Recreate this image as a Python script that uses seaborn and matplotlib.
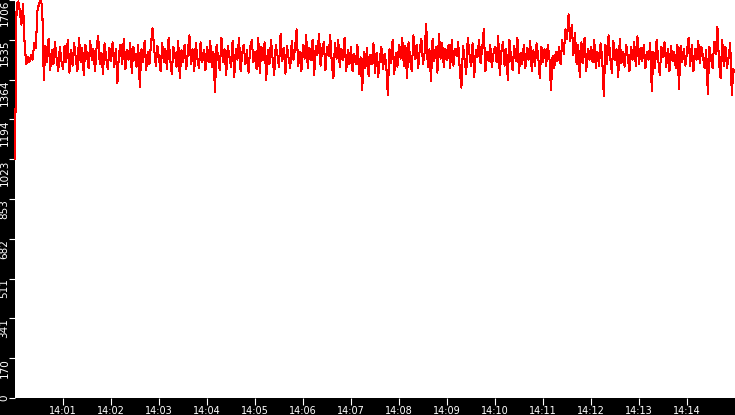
import pandas as pd
import numpy as np
import matplotlib
matplotlib.use('Agg')
import matplotlib.pyplot as plt
import seaborn as sns

# ============================================================================
# DATA (one sample every 2 s, 14:00:00 -> 14:15:00)
# ============================================================================

min_00 = [1023, 1690, 1700, 1660, 1600, 1690, 1520, 1430, 1460, 1440,
          1470, 1450, 1520, 1500, 1660, 1690, 1706, 1680, 1365, 1510,
          1440, 1540, 1405, 1490, 1430, 1525, 1455, 1400, 1505, 1445]
min_01 = [1410, 1510, 1440, 1535, 1395, 1490, 1425, 1520, 1455, 1400,
          1545, 1440, 1500, 1385, 1515, 1470, 1415, 1530, 1450, 1495,
          1400, 1505, 1550, 1430, 1480, 1390, 1520, 1455, 1410, 1500]
min_02 = [1445, 1525, 1420, 1495, 1350, 1480, 1515, 1430, 1540, 1410,
          1490, 1450, 1520, 1395, 1505, 1460, 1420, 1515, 1335, 1495,
          1440, 1530, 1405, 1485, 1430, 1520, 1585, 1495, 1425, 1510]
min_03 = [1455, 1400, 1520, 1440, 1495, 1410, 1545, 1450, 1390, 1505,
          1470, 1420, 1530, 1370, 1490, 1440, 1515, 1410, 1480, 1555,
          1430, 1495, 1400, 1520, 1455, 1415, 1525, 1440, 1490, 1405]
min_04 = [1505, 1440, 1530, 1420, 1485, 1310, 1515, 1455, 1405, 1545,
          1440, 1495, 1385, 1510, 1465, 1420, 1530, 1375, 1495, 1450,
          1545, 1400, 1480, 1515, 1430, 1490, 1395, 1505, 1535, 1440]
min_05 = [1485, 1410, 1545, 1395, 1505, 1450, 1525, 1365, 1490, 1430,
          1535, 1455, 1385, 1515, 1470, 1420, 1560, 1445, 1500, 1390,
          1510, 1455, 1415, 1530, 1450, 1495, 1580, 1425, 1485, 1400]
min_06 = [1515, 1455, 1555, 1415, 1500, 1450, 1535, 1385, 1510, 1470,
          1560, 1425, 1495, 1525, 1405, 1505, 1465, 1555, 1435, 1370,
          1520, 1455, 1535, 1420, 1495, 1450, 1545, 1400, 1490, 1430]
min_07 = [1505, 1400, 1475, 1430, 1515, 1390, 1460, 1320, 1485, 1415,
          1500, 1380, 1470, 1430, 1520, 1395, 1480, 1375, 1455, 1505,
          1410, 1475, 1430, 1300, 1495, 1435, 1535, 1390, 1480, 1420]
min_08 = [1515, 1455, 1545, 1425, 1510, 1370, 1525, 1450, 1400, 1555,
          1455, 1515, 1415, 1495, 1540, 1430, 1480, 1605, 1420, 1495,
          1360, 1540, 1445, 1505, 1395, 1560, 1455, 1520, 1420, 1495]
min_09 = [1450, 1515, 1415, 1535, 1425, 1495, 1465, 1525, 1405, 1330,
          1510, 1450, 1390, 1545, 1475, 1425, 1520, 1375, 1490, 1460,
          1535, 1435, 1500, 1580, 1400, 1485, 1445, 1515, 1420, 1475]
min_10 = [1505, 1440, 1550, 1385, 1485, 1525, 1425, 1495, 1365, 1535,
          1460, 1405, 1510, 1445, 1545, 1395, 1480, 1430, 1515, 1415,
          1500, 1450, 1530, 1400, 1490, 1425, 1520, 1465, 1370, 1505]
min_11 = [1440, 1495, 1425, 1515, 1460, 1320, 1465, 1415, 1485, 1445,
          1505, 1430, 1535, 1475, 1580, 1540, 1645, 1530, 1600, 1470,
          1565, 1430, 1515, 1375, 1525, 1435, 1545, 1400, 1495, 1450]
min_12 = [1505, 1440, 1535, 1415, 1485, 1425, 1520, 1455, 1295, 1515,
          1430, 1555, 1460, 1395, 1530, 1450, 1495, 1375, 1540, 1435,
          1485, 1420, 1515, 1460, 1400, 1505, 1450, 1525, 1425, 1550]
min_13 = [1430, 1500, 1445, 1515, 1415, 1485, 1450, 1520, 1315, 1485,
          1415, 1535, 1450, 1385, 1505, 1460, 1525, 1420, 1495, 1400,
          1510, 1445, 1485, 1415, 1515, 1325, 1510, 1440, 1495, 1425]
min_14 = [1485, 1545, 1425, 1515, 1400, 1495, 1450, 1530, 1435, 1505,
          1460, 1415, 1490, 1305, 1505, 1455, 1415, 1525, 1475, 1590,
          1440, 1370, 1535, 1425, 1505, 1415, 1460, 1520, 1300, 1410,
          1400]

ytick_labels = ['0', '170', '341', '511', '682', '853',
                '1023', '1194', '1364', '1535', '1706']
xtick_labels = ['14:01', '14:02', '14:03', '14:04', '14:05', '14:06', '14:07',
                '14:08', '14:09', '14:10', '14:11', '14:12', '14:13', '14:14']

values = (min_00 + min_01 + min_02 + min_03 + min_04 + min_05 + min_06 +
          min_07 + min_08 + min_09 + min_10 + min_11 + min_12 + min_13 + min_14)
df = pd.DataFrame({
    'time': pd.date_range('2024-01-01 14:00:00', periods=len(values), freq='2s'),
    'value': values,
})

# ============================================================================
# PLOT
# ============================================================================

plt.rcParams['font.family'] = ['DejaVu Sans']

fig = plt.figure(figsize=(7.35, 4.15), dpi=100, facecolor='black')
ax = fig.add_axes([15 / 735, 17 / 415, 720 / 735, 398 / 415])
ax.set_facecolor('white')

sns.lineplot(data=df, x='time', y='value', color='#ff0000', linewidth=0.75,
             antialiased=False, ax=ax)
for ln in ax.get_lines():
    ln.set_clip_on(False)  # keep the first steep segment fully visible

ax.set_ylim(0, 1706)
ax.set_xlim(pd.Timestamp('2024-01-01 14:00:00'), pd.Timestamp('2024-01-01 14:15:00'))

ax.set_yticks(np.linspace(0, 1706, len(ytick_labels)))
ax.set_yticklabels(ytick_labels)
ax.set_xticks(pd.date_range('2024-01-01 14:01:00', periods=len(xtick_labels), freq='1min'))
ax.set_xticklabels(xtick_labels)

ax.set_xlabel('')
ax.set_ylabel('')
for s in ax.spines.values():
    s.set_visible(False)

ax.tick_params(axis='both', colors='white', labelsize=7, width=0.8)
ax.tick_params(axis='y', length=4, pad=1.5, labelsize=7.5)
ax.tick_params(axis='x', length=5, pad=1)

# rotated y labels hang below their tick; the bottom one is pushed up to fit
for i, lab in enumerate(ax.get_yticklabels()):
    lab.set_rotation(90)
    lab.set_rotation_mode('anchor')
    lab.set_va('baseline')
    lab.set_ha('center' if ytick_labels[i] == '0' else 'right')

fig.savefig('out.png', dpi=100, facecolor='black')
